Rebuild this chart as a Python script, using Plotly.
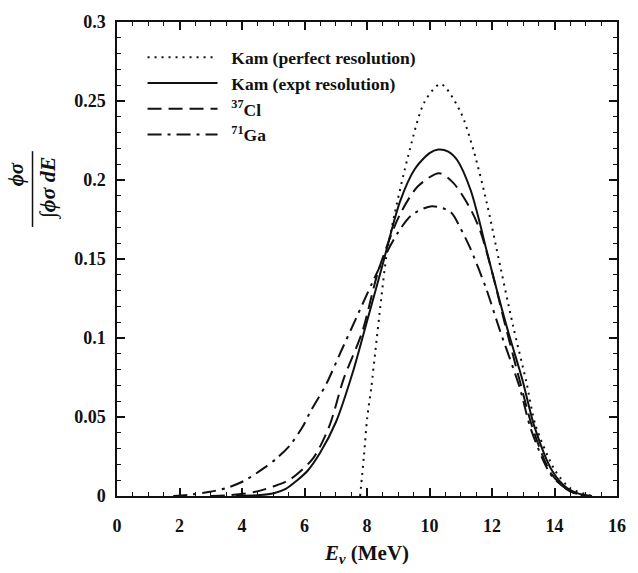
import plotly.graph_objects as go

# ---- data ----
E_perfect = [7.78, 7.9, 8.01, 8.14, 8.27, 8.45, 8.63, 8.9, 9.31, 9.84, 10.36, 10.99, 11.41, 11.83, 12.14, 12.67, 13.09, 13.40, 14.03, 14.5, 14.96, 15.2]
Y_perfect = [0.0, 0.025, 0.05, 0.069, 0.092, 0.124, 0.153, 0.18, 0.2146, 0.2494, 0.2607, 0.2432, 0.2187, 0.1858, 0.157, 0.108, 0.073, 0.0444, 0.0158, 0.005, 0.0014, 0.0]

E_expt = [3.8, 4.5, 5.02, 5.4, 5.75, 6.1, 6.49, 7.01, 7.54, 7.95, 8.48, 9.05, 9.53, 10.0, 10.28, 10.6, 10.89, 11.31, 11.62, 11.78, 12.46, 12.98, 13.35, 13.93, 14.4, 14.77, 15.2]
Y_expt = [0.0, 0.0005, 0.0018, 0.0045, 0.0097, 0.016, 0.027, 0.047, 0.078, 0.107, 0.145, 0.186, 0.207, 0.217, 0.2193, 0.218, 0.2125, 0.194, 0.172, 0.159, 0.108, 0.073, 0.0444, 0.0158, 0.005, 0.0015, 0.0]

E_cl = [3.0, 3.6, 4.39, 5.0, 5.54, 6.28, 6.8, 7.25, 7.85, 8.37, 9.05, 9.63, 10.31, 10.77, 11.31, 11.62, 12.0, 12.4, 12.9, 13.3, 13.9, 14.5, 15.1]
Y_cl = [0.0, 0.0005, 0.0025, 0.006, 0.0105, 0.024, 0.0445, 0.074, 0.104, 0.143, 0.178, 0.196, 0.2043, 0.198, 0.1817, 0.168, 0.142, 0.11, 0.072, 0.043, 0.014, 0.003, 0.0]

E_ga = [1.8, 2.4, 2.92, 3.5, 4.08, 4.71, 5.12, 5.54, 5.96, 6.17, 6.7, 7.17, 7.64, 8.16, 8.63, 9.0, 9.42, 10.07, 10.68, 10.99, 11.3, 11.8, 12.25, 12.88, 13.25, 13.9, 14.5, 15.0]
Y_ga = [0.0, 0.001, 0.0025, 0.005, 0.0097, 0.0178, 0.024, 0.0322, 0.0445, 0.0527, 0.071, 0.0916, 0.112, 0.1346, 0.154, 0.167, 0.1777, 0.1834, 0.1797, 0.1695, 0.157, 0.132, 0.105, 0.069, 0.042, 0.013, 0.003, 0.0]

names = ["Kam (perfect resolution)", "Kam (expt resolution)", "<sup>37</sup>Cl", "<sup>71</sup>Ga"]
dashes = ["2px,5px", "solid", "14px,7px", "14px,6px,3px,6px"]

FONT = "Liberation Serif"
INK = "#111111"
NB = "\u00a0\u00a0"

fig = go.Figure()
series = [(E_perfect, Y_perfect), (E_expt, Y_expt), (E_cl, Y_cl), (E_ga, Y_ga)]
for i, ((xs, ys), nm, ds) in enumerate(zip(series, names, dashes)):
    fig.add_trace(go.Scatter(
        x=xs, y=ys, mode="lines", name=NB + nm, legendgroup=str(i),
        line=dict(color=INK, width=2, dash=ds, shape="spline", smoothing=0.8),
    ))

L, R, T, B = 117, 12, 21, 64
W, H = 638, 573
pw, ph = W - L - R, H - T - B

def px(xp):
    return (xp - L) / pw

def py(yp):
    return (H - B - yp) / ph

axis_common = dict(
    showline=True, linecolor=INK, linewidth=1.5, mirror="ticks",
    ticks="inside", ticklen=8, tickwidth=1.5, tickcolor=INK,
    showgrid=False, zeroline=False,
    tickfont=dict(family=FONT, size=18, color=INK, weight="bold"),
)

fig.update_xaxes(range=[0, 16], dtick=2, tick0=0,
                 minor=dict(dtick=0.5, ticks="inside", ticklen=4, tickwidth=1.2, tickcolor=INK, showgrid=False),
                 ticklabelstandoff=13,
                 title=dict(text="<b><i>E</i><sub><i>ν</i></sub> (MeV)</b>", font=dict(family=FONT, size=21, color=INK), standoff=10),
                 **axis_common)
fig.update_yaxes(range=[0, 0.3], dtick=0.05, tick0=0,
                 minor=dict(dtick=0.01, ticks="inside", ticklen=4, tickwidth=1.2, tickcolor=INK, showgrid=False),
                 ticklabelstandoff=6,
                 **axis_common)

# y-axis title as a fraction
fig.add_annotation(text="<b><i>ϕσ</i></b>", textangle=-90, xref="paper", yref="paper",
                   x=px(15), y=py(178), showarrow=False, xanchor="center", yanchor="middle",
                   font=dict(family=FONT, size=21, color=INK))
fig.add_annotation(text="<b><i>∫ϕσ dE</i></b>", textangle=-90, xref="paper", yref="paper",
                   x=px(47), y=py(192), showarrow=False, xanchor="center", yanchor="middle",
                   font=dict(family=FONT, size=22, color=INK))
fig.add_shape(type="line", xref="paper", yref="paper", x0=px(31), x1=px(31), y0=py(154), y1=py(232),
              line=dict(color=INK, width=1.5))

fig.update_layout(
    width=W, height=H,
    margin=dict(l=L, r=R, t=T, b=B),
    paper_bgcolor="white", plot_bgcolor="white",
    showlegend=True,
    legend=dict(x=px(143), y=py(39), xanchor="left", yanchor="top",
                bgcolor="rgba(0,0,0,0)", borderwidth=0,
                font=dict(family=FONT, size=17.5, color=INK, weight="bold"),
                itemwidth=70, tracegroupgap=10, traceorder="normal"),
)

fig.write_html("out.html", config={"displayModeBar": False},
               post_script="document.body.style.margin='0';document.body.style.overflow='hidden';")
